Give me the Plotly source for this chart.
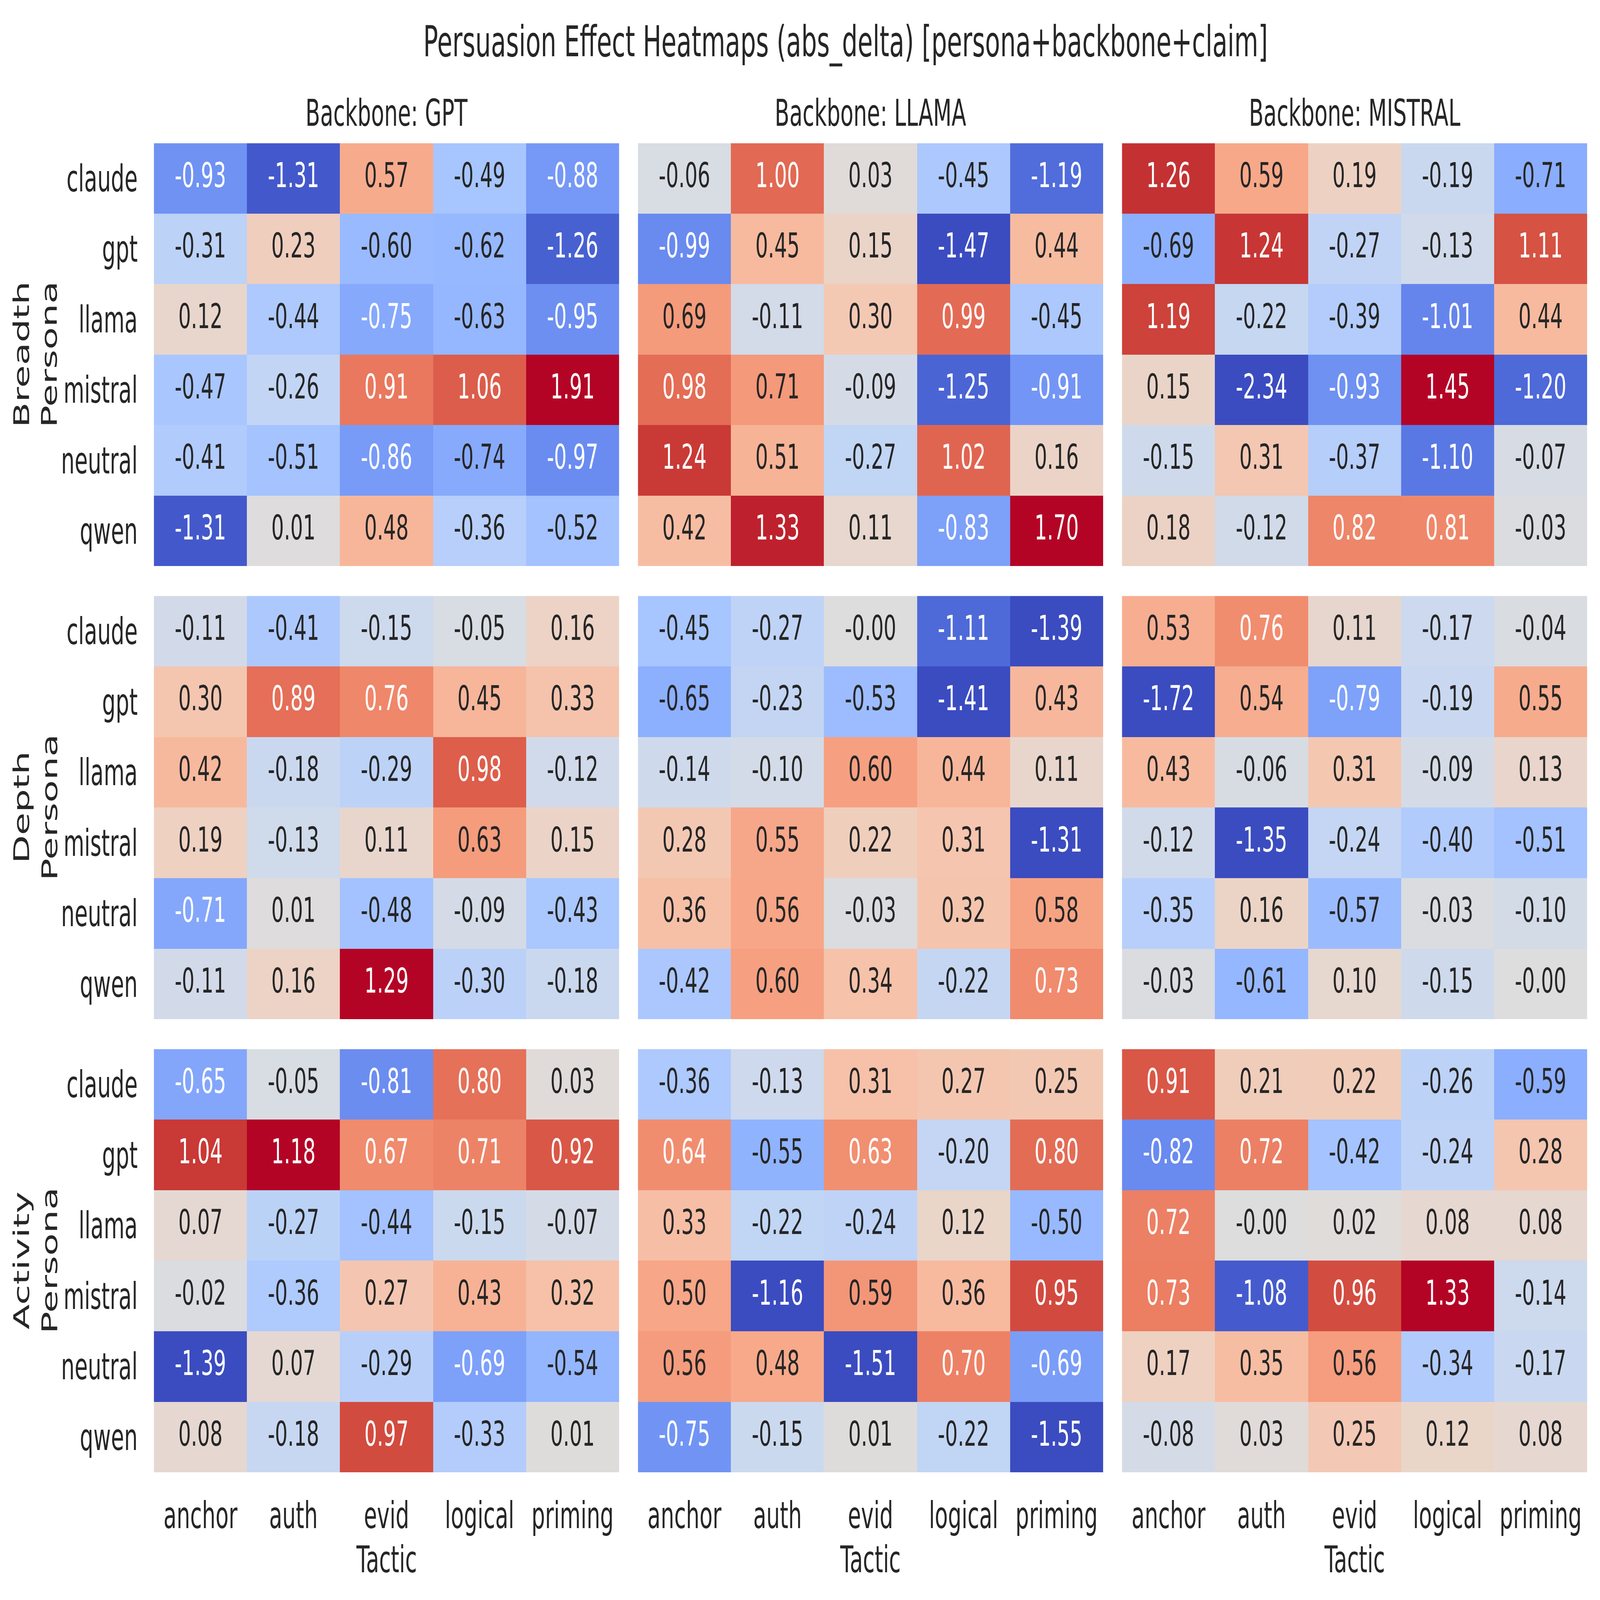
import numpy as np
import plotly.graph_objects as go

# ---------------- data ----------------
tactics = ["anchor", "auth", "evid", "logical", "priming"]
personas = ["claude", "gpt", "llama", "mistral", "neutral", "qwen"]
backbones = ["GPT", "LLAMA", "MISTRAL"]
dimensions = ["Breadth", "Depth", "Activity"]

breadth_gpt = [
    [-0.93, -1.31, 0.57, -0.49, -0.88],
    [-0.31, 0.23, -0.60, -0.62, -1.26],
    [0.12, -0.44, -0.75, -0.63, -0.95],
    [-0.47, -0.26, 0.91, 1.06, 1.91],
    [-0.41, -0.51, -0.86, -0.74, -0.97],
    [-1.31, 0.01, 0.48, -0.36, -0.52],
]
breadth_llama = [
    [-0.06, 1.00, 0.03, -0.45, -1.19],
    [-0.99, 0.45, 0.15, -1.47, 0.44],
    [0.69, -0.11, 0.30, 0.99, -0.45],
    [0.98, 0.71, -0.09, -1.25, -0.91],
    [1.24, 0.51, -0.27, 1.02, 0.16],
    [0.42, 1.33, 0.11, -0.83, 1.70],
]
breadth_mistral = [
    [1.26, 0.59, 0.19, -0.19, -0.71],
    [-0.69, 1.24, -0.27, -0.13, 1.11],
    [1.19, -0.22, -0.39, -1.01, 0.44],
    [0.15, -2.34, -0.93, 1.45, -1.20],
    [-0.15, 0.31, -0.37, -1.10, -0.07],
    [0.18, -0.12, 0.82, 0.81, -0.03],
]
depth_gpt = [
    [-0.11, -0.41, -0.15, -0.05, 0.16],
    [0.30, 0.89, 0.76, 0.45, 0.33],
    [0.42, -0.18, -0.29, 0.98, -0.12],
    [0.19, -0.13, 0.11, 0.63, 0.15],
    [-0.71, 0.01, -0.48, -0.09, -0.43],
    [-0.11, 0.16, 1.29, -0.30, -0.18],
]
depth_llama = [
    [-0.45, -0.27, -0.0, -1.11, -1.39],
    [-0.65, -0.23, -0.53, -1.41, 0.43],
    [-0.14, -0.10, 0.60, 0.44, 0.11],
    [0.28, 0.55, 0.22, 0.31, -1.31],
    [0.36, 0.56, -0.03, 0.32, 0.58],
    [-0.42, 0.60, 0.34, -0.22, 0.73],
]
depth_mistral = [
    [0.53, 0.76, 0.11, -0.17, -0.04],
    [-1.72, 0.54, -0.79, -0.19, 0.55],
    [0.43, -0.06, 0.31, -0.09, 0.13],
    [-0.12, -1.35, -0.24, -0.40, -0.51],
    [-0.35, 0.16, -0.57, -0.03, -0.10],
    [-0.03, -0.61, 0.10, -0.15, -0.0],
]
activity_gpt = [
    [-0.65, -0.05, -0.81, 0.80, 0.03],
    [1.04, 1.18, 0.67, 0.71, 0.92],
    [0.07, -0.27, -0.44, -0.15, -0.07],
    [-0.02, -0.36, 0.27, 0.43, 0.32],
    [-1.39, 0.07, -0.29, -0.69, -0.54],
    [0.08, -0.18, 0.97, -0.33, 0.01],
]
activity_llama = [
    [-0.36, -0.13, 0.31, 0.27, 0.25],
    [0.64, -0.55, 0.63, -0.20, 0.80],
    [0.33, -0.22, -0.24, 0.12, -0.50],
    [0.50, -1.16, 0.59, 0.36, 0.95],
    [0.56, 0.48, -1.51, 0.70, -0.69],
    [-0.75, -0.15, 0.01, -0.22, -1.55],
]
activity_mistral = [
    [0.91, 0.21, 0.22, -0.26, -0.59],
    [-0.82, 0.72, -0.42, -0.24, 0.28],
    [0.72, -0.0, 0.02, 0.08, 0.08],
    [0.73, -1.08, 0.96, 1.33, -0.14],
    [0.17, 0.35, 0.56, -0.34, -0.17],
    [-0.08, 0.03, 0.25, 0.12, 0.08],
]

panels = [
    [breadth_gpt, breadth_llama, breadth_mistral],
    [depth_gpt, depth_llama, depth_mistral],
    [activity_gpt, activity_llama, activity_mistral],
]

# symmetric colour limits (+/-) used by each panel
color_limits = [
    [1.39, 1.40, 1.38],
    [1.29, 1.28, 1.35],
    [1.17, 1.14, 1.16],
]

# ---------------- colormap (matplotlib coolwarm) ----------------
coolwarm = [
    (0.2298057, 0.298717966, 0.753683153), (0.26623388, 0.353094838, 0.801466763),
    (0.30386891, 0.406535296, 0.84495867), (0.342804478, 0.458757618, 0.883725899),
    (0.38301334, 0.50941904, 0.917387822), (0.424369608, 0.558148092, 0.945619588),
    (0.46666708, 0.604562568, 0.968154911), (0.509635204, 0.648280772, 0.98478814),
    (0.552953156, 0.688929332, 0.995375608), (0.596262162, 0.726149107, 0.999836203),
    (0.639176211, 0.759599947, 0.998151185), (0.681291281, 0.788964712, 0.990363227),
    (0.722193294, 0.813952739, 0.976574709), (0.761464949, 0.834302879, 0.956945269),
    (0.798691636, 0.849786142, 0.931688648), (0.833466556, 0.860207984, 0.901068838),
    (0.865395197, 0.86541021, 0.865395561), (0.897787179, 0.848937047, 0.820880546),
    (0.924127593, 0.827384882, 0.774508472), (0.944468518, 0.800927443, 0.726736146),
    (0.958852946, 0.769767752, 0.678007945), (0.96732803, 0.734132809, 0.628751763),
    (0.969954137, 0.694266682, 0.579375448), (0.966811177, 0.650421156, 0.530263762),
    (0.958003065, 0.602842431, 0.481775914), (0.943660866, 0.551750968, 0.434243684),
    (0.923944917, 0.49730856, 0.387970225), (0.89904617, 0.439559467, 0.343229596),
    (0.869186849, 0.378313092, 0.300267182), (0.834620542, 0.312874446, 0.259301199),
    (0.795631745, 0.24128379, 0.220525627), (0.752534934, 0.157246067, 0.184115123),
    (0.705673158, 0.01555616, 0.150232812),
]
cw = np.array(coolwarm)
cw_pos = np.linspace(0, 1, len(coolwarm))
colorscale = [[float(p), "rgb(%d,%d,%d)" % tuple(np.round(c * 255))] for p, c in zip(cw_pos, cw)]


def cmap(frac):
    frac = min(max(frac, 0.0), 1.0)
    return [float(np.interp(frac, cw_pos, cw[:, k])) for k in range(3)]


def text_color(v, vmax):
    rgb = cmap(0.5 + 0.5 * v / vmax)
    lin = [c / 12.92 if c <= 0.03928 else ((c + 0.055) / 1.055) ** 2.4 for c in rgb]
    lum = 0.2126 * lin[0] + 0.7152 * lin[1] + 0.0722 * lin[2]
    return "#262626" if lum > 0.408 else "#ffffff"


# ---------------- layout geometry ----------------
W, H = 7474, 4336
col_px = [(719, 2892), (2980, 5153), (5241, 7414)]
row_px = [(388, 1534), (1615, 2762), (2843, 3990)]
FONT = "DejaVu Sans"
DARK = "#262626"

fig = go.Figure()
annotations = []

for r in range(3):
    for c in range(3):
        idx = r * 3 + c + 1
        xa = "x" if idx == 1 else "x%d" % idx
        ya = "y" if idx == 1 else "y%d" % idx
        z = panels[r][c]
        vmax = color_limits[r][c]
        fig.add_trace(go.Heatmap(
            z=z, x=tactics, y=personas, xaxis=xa, yaxis=ya,
            colorscale=colorscale, zmin=-vmax, zmax=vmax, showscale=False,
            hoverinfo="skip",
        ))
        xs, ys, txt, cols = [], [], [], []
        for i, p in enumerate(personas):
            for j, t in enumerate(tactics):
                v = z[i][j]
                xs.append(t)
                ys.append(p)
                txt.append("%.2f" % v)
                cols.append(text_color(v, vmax))
        fig.add_trace(go.Scatter(
            x=xs, y=ys, text=txt, mode="text", xaxis=xa, yaxis=ya,
            textposition="middle center",
            textfont=dict(family=FONT, size=93, color=cols),
            hoverinfo="skip", showlegend=False,
        ))
        x0, x1 = col_px[c]
        y0, y1 = row_px[r]
        xdom = [x0 / W, x1 / W]
        ydom = [1 - y1 / H, 1 - y0 / H]
        xkey = "xaxis" if idx == 1 else "xaxis%d" % idx
        ykey = "yaxis" if idx == 1 else "yaxis%d" % idx
        fig.update_layout(**{
            xkey: dict(domain=xdom, anchor=ya, range=[-0.5, 4.5], type="category",
                       categoryorder="array", categoryarray=tactics,
                       showgrid=False, zeroline=False, showline=False,
                       ticks="", showticklabels=(r == 2), ticklabelstandoff=50,
                       tickfont=dict(family=FONT, size=100, color=DARK)),
            ykey: dict(domain=ydom, anchor=xa, range=[5.5, -0.5], type="category",
                       categoryorder="array", categoryarray=personas,
                       showgrid=False, zeroline=False, showline=False,
                       ticks="", showticklabels=(c == 0), ticklabelstandoff=75,
                       tickfont=dict(family=FONT, size=100, color=DARK)),
        })
        if r == 0:
            annotations.append(dict(
                text="Backbone: %s" % backbones[c], xref="paper", yref="paper",
                x=(xdom[0] + xdom[1]) / 2, y=1 - 306 / H, xanchor="center", yanchor="middle",
                showarrow=False, font=dict(family=FONT, size=100, color=DARK)))
        if r == 2:
            annotations.append(dict(
                text="Tactic", xref="paper", yref="paper",
                x=(xdom[0] + xdom[1]) / 2, y=1 - 4226 / H, xanchor="center", yanchor="middle",
                showarrow=False, font=dict(family=FONT, size=100, color=DARK)))
        if c == 0:
            annotations.append(dict(
                text="%s<br>Persona" % dimensions[r], xref="paper", yref="paper",
                x=166 / W, y=(ydom[0] + ydom[1]) / 2, xanchor="center", yanchor="middle",
                textangle=-90, showarrow=False,
                font=dict(family=FONT, size=100, color=DARK)))

annotations.append(dict(
    text="Persuasion Effect Heatmaps (abs_delta) [persona+backbone+claim]",
    xref="paper", yref="paper", x=3950 / W, y=1 - 112 / H,
    xanchor="center", yanchor="middle", showarrow=False,
    font=dict(family=FONT, size=115, color=DARK)))

fig.update_layout(
    width=W, height=H, margin=dict(l=0, r=0, t=0, b=0),
    paper_bgcolor="white", plot_bgcolor="white",
    annotations=annotations, showlegend=False,
)

# The figure is laid out for a 7474x4336 window; if the actual viewport differs,
# stretch the rendered figure so that it exactly fills the viewport.
fit_script = """
document.documentElement.style.margin = '0';
document.body.style.margin = '0';
document.documentElement.style.overflow = 'hidden';
document.body.style.overflow = 'hidden';
var gd = document.getElementById('{plot_id}');
var sx = window.innerWidth / 7474, sy = window.innerHeight / 4336;
if (Math.abs(sx - 1) > 1e-3 || Math.abs(sy - 1) > 1e-3) {
  gd.style.transformOrigin = '0 0';
  gd.style.transform = 'scale(' + sx + ',' + sy + ')';
}
"""

fig.write_html("out.html", post_script=fit_script, config={"displayModeBar": False})
